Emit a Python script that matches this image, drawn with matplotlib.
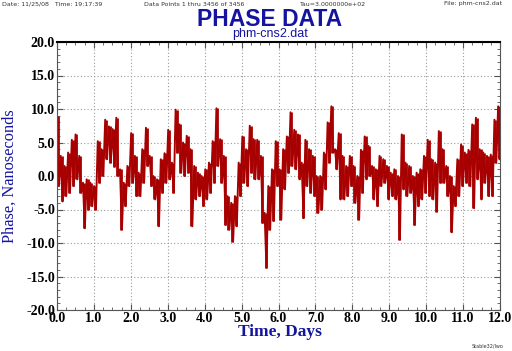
import numpy as np
import matplotlib
matplotlib.use("Agg")
import matplotlib.pyplot as plt
from matplotlib.ticker import MultipleLocator

# Envelope of the phase trace, read per 0.1 day bin (ns): top and bottom of each bin
fase_max = [9.0, 3.0, 1.5, 3.5, 5.4, 6.2, 3.0, -1.0, -0.5, -1.0,
            -1.5, 5.2, 4.0, 8.4, 7.4, 7.0, 8.7, 1.0, -1.0, 1.5,
            6.4, 3.0, 0.5, 4.0, 7.2, 3.0, 0.0, -0.5, 2.5, 3.4,
            6.9, 2.0, 9.9, 7.7, 5.0, 6.0, 4.0, 1.5, 0.5, 0.0,
            1.0, 2.0, 5.2, 10.1, 5.5, 3.0, -3.0, -4.0, -3.0, 2.0,
            5.9, 4.0, 7.5, 5.5, 5.4, 3.0, -5.5, -1.5, 1.0, 5.2,
            1.0, 4.0, 5.9, 9.5, 6.9, 6.2, 2.0, 5.4, 4.0, 3.0,
            0.0, 0.0, 3.5, 8.0, 10.4, 4.0, 6.4, 3.0, 1.5, 3.0,
            1.5, 0.0, 3.9, 5.9, 4.5, 1.5, 1.0, 3.0, 2.5, 1.5,
            0.5, 1.0, 0.0, 6.2, 2.0, 1.5, 0.0, 0.5, 1.0, 3.0,
            5.4, 2.5, 2.0, 6.7, 4.0, 1.5, 0.0, -1.5, 2.5, 4.7,
            3.5, 3.9, 7.7, 8.7, 4.0, 3.5, 3.0, 3.2, 8.4, 10.4]
fase_min = [-1.5, -3.8, -3.0, -2.5, -1.5, -0.5, -2.5, -7.8, -5.0, -4.5,
            -5.0, -1.0, 0.0, 2.5, 2.0, 1.4, 0.0, -8.0, -4.5, -1.5,
            -1.0, -3.0, -3.0, -1.0, 1.5, -1.5, -3.5, -7.5, -2.5, -1.0,
            -0.5, -2.5, 3.5, 0.5, 0.0, 0.5, -7.5, -3.5, -3.0, -4.5,
            -3.5, -2.5, -1.0, 1.5, -1.0, -7.3, -8.0, -9.8, -7.5, -3.0,
            -1.0, -1.5, 0.5, -0.5, -0.5, -7.0, -13.7, -8.0, -6.7, -1.5,
            -6.5, -2.0, 0.5, 1.5, 1.0, -0.5, -6.3, -1.5, -2.5, -3.0,
            -5.5, -5.0, -2.0, 2.0, 3.5, 1.0, -3.5, -3.5, -3.0, -1.5,
            -4.0, -6.5, -2.5, -0.5, 0.0, -3.5, -4.5, -1.5, -1.0, -3.5,
            -3.0, -3.5, -9.5, -2.0, -3.0, -2.5, -7.3, -4.5, -3.5, -2.5,
            -3.0, -3.5, -5.3, -1.0, -1.0, -3.0, -8.4, -4.5, -3.0, -1.5,
            -1.0, -1.5, -4.8, -0.5, -3.5, -1.0, -3.0, -3.0, 2.0, 2.5]

# Textos
titulo = "PHASE DATA"
subtitulo = "phm-cns2.dat"
rotulo_x = "Time, Days"
rotulo_y = "Phase, Nanoseconds"
ticks_x = [0, 1, 2, 3, 4, 5, 6, 7, 8, 9, 10, 11, 12]
ticks_y = [-20, -15, -10, -5, 0, 5, 10, 15, 20]

azul = "#1414a0"
vermelho = "#a80000"

# Alterna topo/fundo de cada intervalo para formar o traço ruidoso
fase = np.ravel(np.column_stack([fase_max, fase_min]))
dias = np.linspace(0, 12, len(fase))
dias_bin = dias[0::2] + (dias[1] - dias[0]) / 2  # centro de cada intervalo

fig = plt.figure(figsize=(5.12, 3.51), dpi=100)
ax = fig.add_axes([57 / 512, 1 - 310 / 351, 443 / 512, 268 / 351])

ax.vlines(dias_bin, fase_min, fase_max, color=vermelho, linewidth=2.0)
ax.plot(dias, fase, color=vermelho, linewidth=1.4)

ax.set_xlim(0, 12)
ax.set_ylim(-20, 20)
ax.set_xticks(ticks_x)
ax.set_xticklabels(["%.1f" % v for v in ticks_x])
ax.set_yticks(ticks_y)
ax.set_yticklabels(["%.1f" % v for v in ticks_y])
ax.xaxis.set_minor_locator(MultipleLocator(0.25))
ax.yaxis.set_minor_locator(MultipleLocator(1.0))
ax.tick_params(which="both", direction="in", top=True, right=True,
               colors="#555555", labelcolor="black")
ax.tick_params(which="major", length=4, pad=1.5)
ax.tick_params(which="minor", length=2)
for lab in ax.get_xticklabels() + ax.get_yticklabels():
    lab.set_family("Liberation Serif")
    lab.set_fontsize(10)
    lab.set_weight("bold")

ax.grid(True, which="major", linestyle=(0, (1, 2)), color="#999999", linewidth=0.8)
for lado in ["left", "right", "bottom"]:
    ax.spines[lado].set_color("#555555")
ax.spines["top"].set_color("black")
ax.spines["top"].set_linewidth(1.5)

# Rotulos dos eixos
fig.text(280 / 512, 1 - 336 / 351, rotulo_x, ha="center", va="baseline",
         color=azul, fontsize=12.5, family="Liberation Serif", weight="bold")
fig.text(10 / 512, 1 - 176 / 351, rotulo_y, ha="center", va="center",
         rotation=90, color=azul, fontsize=11.8, family="Liberation Serif")

# Titulo e subtitulo
fig.text(270 / 512, 1 - 25.5 / 351, titulo, ha="center", va="baseline",
         color=azul, fontsize=16.5, family="Liberation Sans", weight="bold")
fig.text(270 / 512, 1 - 37.5 / 351, subtitulo, ha="center", va="baseline",
         color=azul, fontsize=9, family="Liberation Sans")

# Cabecalho pequeno
cinza = "#333333"
fig.text(2 / 512, 1 - 4 / 351, "Date: 11/25/08   Time: 19:17:39", ha="left", va="center",
         fontsize=4.5, color=cinza)
fig.text(144 / 512, 1 - 4 / 351, "Data Points 1 thru 3456 of 3456", ha="left", va="center",
         fontsize=4.5, color=cinza)
fig.text(300 / 512, 1 - 4 / 351, "Tau=3.0000000e+02", ha="left", va="center",
         fontsize=4.5, color=cinza)
fig.text(502 / 512, 1 - 4 / 351, "File: phm-cns2.dat", ha="right", va="center",
         fontsize=4.5, color=cinza)
fig.text(503 / 512, 1 - 346 / 351, "Stable32/lwo", ha="right", va="center",
         fontsize=3.5, color=cinza)

fig.savefig("out.png", dpi=100)
